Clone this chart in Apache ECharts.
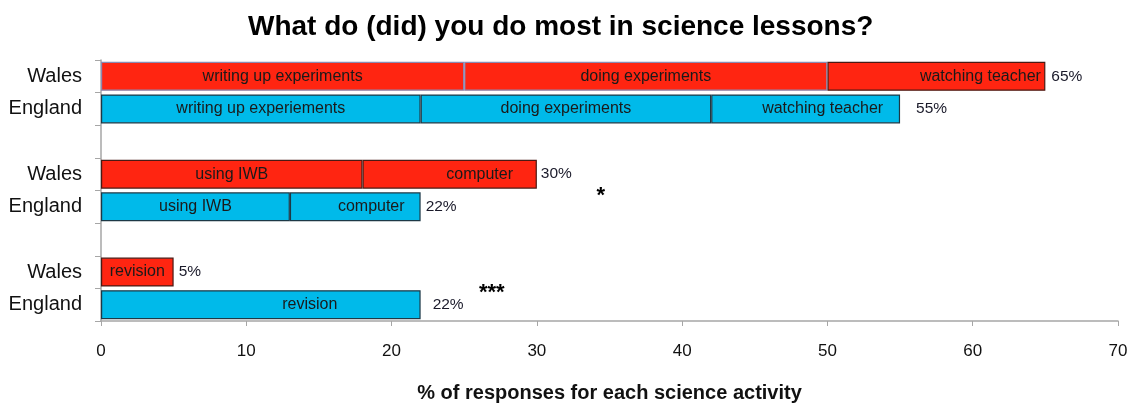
<!DOCTYPE html>
<html>
<head>
<meta charset="utf-8">
<script src="https://cdn.jsdelivr.net/npm/echarts@6/dist/echarts.min.js"></script>
<style>html,body{margin:0;padding:0;background:#fff;}#c{width:1134px;height:408px;}</style>
</head>
<body>
<div id="c"></div>
<script>
// ---- data ----
const categories = ['Wales', 'England', '', 'Wales', 'England', '', 'Wales', 'England'];
const seg1Values = [25, 22, null, 18, 13, null, 5, 22];
const seg2Values = [25, 20, null, 12, 9, null, null, null];
const seg3Values = [15, 13, null, null, null, null, null, null];
const seg1Labels = ['writing up experiments', 'writing up experiements', '', 'using IWB', 'using IWB', '', 'revision', 'revision'];
const seg2Labels = ['doing experiments', 'doing experiments', '', 'computer', 'computer', '', '', ''];
const seg3Labels = ['watching teacher', 'watching teacher', '', '', '', '', '', ''];
const xMin = 0, xMax = 70, xInterval = 10;
const titleText = 'What do (did) you do most in science lessons?';
const xAxisTitle = '% of responses for each science activity';
const annotations = [
  { text: '*', x: 34.4, row: 3.5 },
  { text: '***', x: 26.9, row: 6.5 }
];

// ---- styling (kept separate from data) ----
const FONT = '"Liberation Sans", Arial, Helvetica, sans-serif';
const RED = '#FF2511', BLUE = '#00BAEA';
const seg1Offsets = [0, 0, 0, 0, 0, 0, 0, 49];
const seg2Offsets = [0, 0, 0, 30, 16, 0, 0, 0];
const seg3Offsets = [44, 17, 0, 0, 0, 0, 0, 0];
const totalGaps = [6, 16, 0, 4, 5, 0, 5, 12];
const lavenderBorder = [[0], [0], []];

function rowColor(i) { return categories[i] === 'Wales' ? RED : BLUE; }

function segSeries(idx, values, labels, offsets) {
  return {
    type: 'bar', stack: 'total', barWidth: 29, barGap: '-100%',
    data: values.map((v, i) => ({
      value: v,
      itemStyle: {
        color: rowColor(i),
        borderColor: (lavenderBorder[idx].indexOf(i) >= 0) ? '#8a8ab2' : (categories[i] === 'Wales' ? '#4a1a14' : '#1d3946'),
        borderWidth: 1.2
      },
      label: { offset: [offsets[i], 0] }
    })),
    label: {
      show: true, position: 'inside',
      formatter: p => labels[p.dataIndex],
      fontSize: 16, fontFamily: FONT, color: '#1a1a1a'
    },
    emphasis: { disabled: true },
    silent: true
  };
}

const totals = categories.map((c, i) => {
  const s = [seg1Values[i], seg2Values[i], seg3Values[i]].filter(v => v != null);
  return s.length ? s.reduce((a, b) => a + b, 0) : null;
});

const chart = echarts.init(document.getElementById('c'), null, { renderer: 'canvas' });
chart.setOption({
  animation: false,
  backgroundColor: '#fff',
  title: {
    text: titleText, left: 243, top: 8,
    textStyle: { fontSize: 28, fontWeight: 'bold', color: '#000', fontFamily: FONT }
  },
  grid: { left: 101, right: 16, top: 60, bottom: 74, containLabel: false },
  xAxis: {
    type: 'value', min: xMin, max: xMax, interval: xInterval,
    name: xAxisTitle, nameLocation: 'middle', nameGap: 62,
    nameTextStyle: { fontSize: 20, fontWeight: 'bold', color: '#111', fontFamily: FONT },
    axisLine: { show: true, lineStyle: { color: '#a6a6a6', width: 1.5 } },
    axisTick: { show: true, length: 5, lineStyle: { color: '#a6a6a6' } },
    axisLabel: { fontSize: 17, color: '#111', fontFamily: FONT, margin: 22 },
    splitLine: { show: false }
  },
  yAxis: {
    type: 'category', data: categories, inverse: true,
    axisLine: { show: true, lineStyle: { color: '#a6a6a6', width: 1.5 } },
    axisTick: { show: true, length: 6, lineStyle: { color: '#a6a6a6' } },
    axisLabel: { fontSize: 20, color: '#111', fontFamily: FONT, margin: 19 }
  },
  series: [
    segSeries(0, seg1Values, seg1Labels, seg1Offsets),
    segSeries(1, seg2Values, seg2Labels, seg2Offsets),
    segSeries(2, seg3Values, seg3Labels, seg3Offsets),
    {
      type: 'bar', barWidth: 29, barGap: '-100%', z: 1,
      data: totals.map((v, i) => ({ value: v, label: { distance: totalGaps[i] } })),
      itemStyle: { color: 'rgba(0,0,0,0)' },
      label: {
        show: true, position: 'right',
        formatter: p => p.value == null ? '' : p.value + '%',
        fontSize: 15.5, fontFamily: FONT, color: '#1a1a2a'
      },
      emphasis: { disabled: true }, silent: true
    }
  ]
});

// annotations placed through the axes' own scales
const graphics = annotations.map(a => {
  const r0 = Math.floor(a.row), r1 = Math.ceil(a.row);
  const p0 = chart.convertToPixel({ gridIndex: 0 }, [a.x, r0]);
  const p1 = chart.convertToPixel({ gridIndex: 0 }, [a.x, r1]);
  const t = a.row - r0;
  const px = p0[0];
  const py = p0[1] + (p1[1] - p0[1]) * t;
  return {
    type: 'text', x: px, y: py + 5, silent: true,
    style: {
      text: a.text, fontSize: 22, fontWeight: 'bold', fill: '#000',
      fontFamily: FONT, textAlign: 'center', textVerticalAlign: 'middle'
    }
  };
});
chart.setOption({ graphic: graphics });
</script>
</body>
</html>
